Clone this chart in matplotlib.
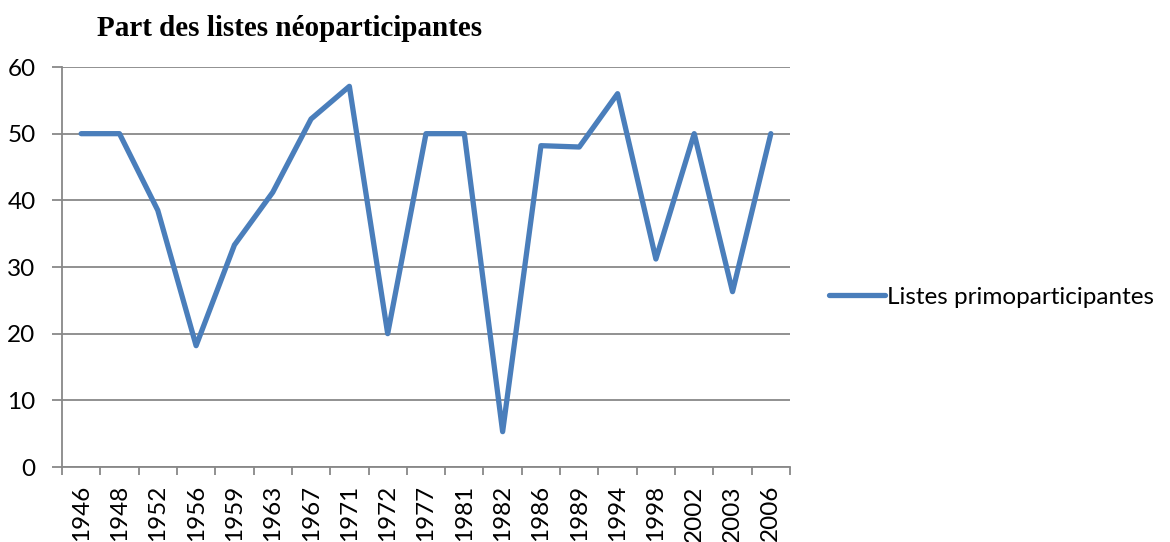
import numpy as np
import matplotlib
matplotlib.use("Agg")
import matplotlib.pyplot as plt

# annees (categories) et part des listes
annees = ["1946", "1948", "1952", "1956", "1959", "1963", "1967", "1971", "1972", "1977",
          "1981", "1982", "1986", "1989", "1994", "1998", "2002", "2003", "2006"]
parts = [50, 50, 38.5, 18.2, 33.3, 41.2, 52.2, 57.1, 20, 50,
         50, 5.3, 48.2, 48, 56, 31.2, 50, 26.3, 50]
yticks = [0, 10, 20, 30, 40, 50, 60]

police = "Lato"
gris = "#888888"
taille = 17.5

fig = plt.figure(figsize=(11.7, 5.42), dpi=100)
ax = fig.add_axes([62/1170, 1-467/542, (790-62)/1170, 400/542])

x = np.arange(len(annees))
ax.plot(x, parts, color="#4A7EBB", lw=3.8, solid_joinstyle="round",
        solid_capstyle="round", label="Listes primoparticipantes")

ax.set_xlim(-0.5, len(annees)-0.5)
ax.set_ylim(0, 60)
ax.set_yticks(yticks)
ax.set_yticklabels([str(v) for v in yticks], fontsize=taille, family=police)
ax.yaxis.grid(True, color=gris, lw=1.3)
ax.set_axisbelow(True)

ax.set_xticks(x)
ax.set_xticklabels(annees, rotation=90, fontsize=taille, family=police)
ax.set_xticks(np.arange(len(annees)+1)-0.5, minor=True)
ax.tick_params(axis="x", which="major", length=0, pad=13)
ax.tick_params(axis="x", which="minor", length=6, width=1.3, color=gris, direction="out")
ax.tick_params(axis="y", length=7, width=1.3, color=gris, direction="out", pad=12)

for s in ["top", "right"]:
    ax.spines[s].set_visible(False)
for s in ["left", "bottom"]:
    ax.spines[s].set_color(gris)
    ax.spines[s].set_linewidth(1.3)

fig.text(97/1170, 1-29/542, "Part des listes néoparticipantes", fontsize=21,
         fontweight="bold", family="Liberation Serif", va="center", ha="left")

ax.legend(loc="center left", bbox_to_anchor=(1.037, 0.425), frameon=False, borderpad=0,
          handlelength=2.3, handletextpad=0.1, prop={"family": police, "size": taille})

fig.savefig("out.png", dpi=100)
